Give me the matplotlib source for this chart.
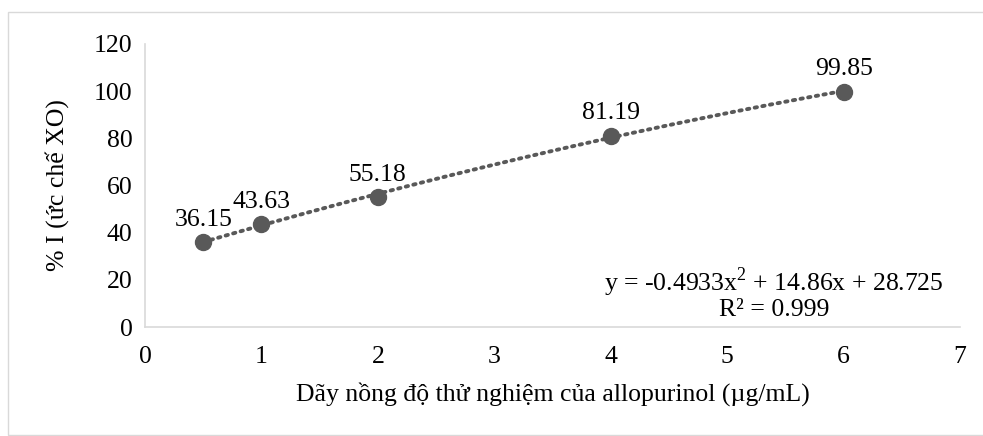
import numpy as np
import matplotlib
matplotlib.use("Agg")
import matplotlib.pyplot as plt
from matplotlib.patches import Rectangle

conc = [0.5, 1, 2, 4, 6]
inhib = [36.15, 43.63, 55.18, 81.19, 99.85]
labels = ["36.15", "43.63", "55.18", "81.19", "99.85"]
eq_text = "y = -0.4933x$^{2}$ + 14.86x + 28.725\nR² = 0.999"

plt.rcParams['font.family'] = ['Liberation Serif', 'DejaVu Serif']
plt.rcParams['mathtext.fontset'] = 'custom'
plt.rcParams['mathtext.rm'] = 'Liberation Serif'

FS = 18.5
fig = plt.figure(figsize=(9.83, 4.36), dpi=100)
fig.patches.append(Rectangle((8/983, 0.002), 1.0, (436-12)/436 - 0.002, transform=fig.transFigure,
                             fill=False, edgecolor='#d9d9d9', linewidth=1.0))
ax = fig.add_axes([145/983, 1-327/436, (960-145)/983, (327-44)/436])

col = '#595959'
coef = np.polyfit(conc, inhib, 2)
xs = np.linspace(min(conc), max(conc), 200)
ax.plot(xs, np.polyval(coef, xs), linestyle=(0, (0.6, 1.4)), color=col, linewidth=2.8,
        dash_capstyle='round', zorder=2)
ax.plot(conc, inhib, 'o', color=col, markersize=11.5, zorder=3)
for x, y, t in zip(conc, inhib, labels):
    ax.annotate(t, (x, y), xytext=(0, 8), textcoords='offset points', ha='center', va='bottom',
                fontsize=FS, color='black')

ax.text(5.40, 14.5, eq_text, ha='center', va='center', fontsize=FS, linespacing=1.0)

ax.set_xlim(0, 7)
ax.set_ylim(0, 120)
ax.set_xticks(range(0, 8))
ax.set_yticks(range(0, 121, 20))
ax.tick_params(length=0, labelsize=FS, pad=9)
ax.tick_params(axis='x', pad=14)
for s in ['top', 'right']:
    ax.spines[s].set_visible(False)
for s in ['left', 'bottom']:
    ax.spines[s].set_color('#d9d9d9')
    ax.spines[s].set_linewidth(1.2)
ax.set_xlabel("Dãy nồng độ thử nghiệm của allopurinol (µg/mL)", fontsize=FS, labelpad=10)
ax.set_ylabel("% I (ức chế XO)", fontsize=FS, labelpad=18)
fig.savefig("out.png", dpi=100)
